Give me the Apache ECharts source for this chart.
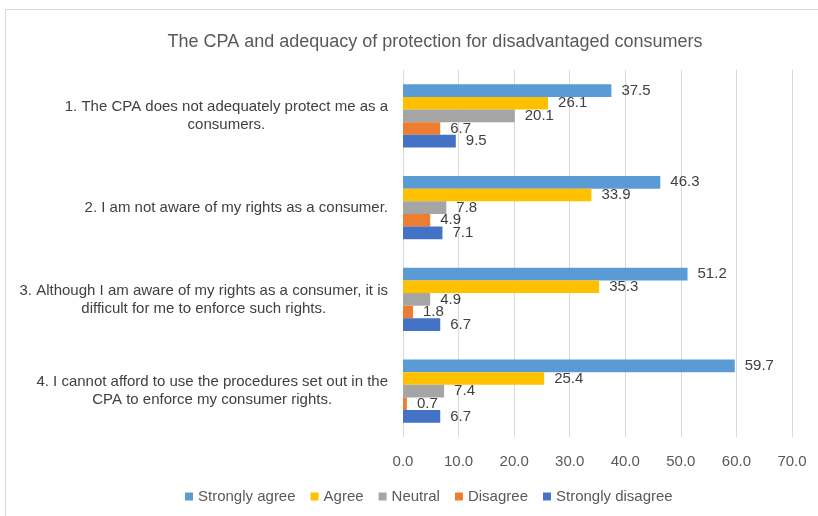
<!DOCTYPE html>
<html>
<head>
<meta charset="utf-8">
<script src="https://cdn.jsdelivr.net/npm/echarts@6/dist/echarts.min.js"></script>
<style>
  html, body { margin: 0; padding: 0; background: #fff; }
  #main { width: 818px; height: 516px; }
</style>
</head>
<body>
<div id="main"></div>
<script>
// categories, top to bottom
const categories = [
  "1. The CPA does not adequately protect me as a\nconsumers.",
  "2. I am not aware of my rights as a consumer.",
  "3. Although I am aware of my rights as a consumer, it is\ndifficult for me to enforce such rights.",
  "4. I cannot afford to use the procedures set out in the\nCPA to enforce my consumer rights.",
]
const seriesNames = ["Strongly agree", "Agree", "Neutral", "Disagree", "Strongly disagree"]
const stronglyAgree = [37.5, 46.3, 51.2, 59.7]
const agree = [26.1, 33.9, 35.3, 25.4]
const neutral = [20.1, 7.8, 4.9, 7.4]
const disagree = [6.7, 4.9, 1.8, 0.7]
const stronglyDisagree = [9.5, 7.1, 6.7, 6.7]
const xTicks = [0, 10, 20, 30, 40, 50, 60, 70]

const colors = ["#5B9BD5", "#FFC000", "#A5A5A5", "#ED7D31", "#4472C4"]
const font = "'Liberation Sans Narrow', 'Liberation Sans', Arial, sans-serif"

const myChart = echarts.init(document.getElementById("main"))

// 每个系列的公共样式
const makeSeries = (name, data, i) => ({
  name: name,
  type: "bar",
  data: data,
  barGap: "0%",
  barCategoryGap: "31%",
  itemStyle: { color: colors[i] },
  label: {
    show: true,
    position: "right",
    distance: 10,
    color: "#404040",
    fontSize: 15,
    fontFamily: font,
    formatter: (p) => p.value.toFixed(1),
  },
})

const option = {
  animation: false,
  title: {
    text: "The CPA and adequacy of protection for disadvantaged consumers",
    left: 430,
    textAlign: "center",
    top: 28,
    textStyle: {
      color: "#595959",
      fontSize: 18,
      fontWeight: "normal",
      fontFamily: font,
    },
  },
  legend: {
    data: seriesNames,
    bottom: 7,
    left: 180,
    itemWidth: 8,
    itemHeight: 8,
    itemGap: 15,
    icon: "rect",
    textStyle: { color: "#595959", fontSize: 15, fontFamily: font },
  },
  grid: {
    left: 403,
    right: 26,
    top: 70,
    bottom: 79,
    containLabel: false,
  },
  xAxis: {
    type: "value",
    min: xTicks[0],
    max: xTicks[xTicks.length - 1],
    interval: 10,
    axisLine: { show: false },
    axisTick: { show: false },
    splitLine: { lineStyle: { color: "#d9d9d9", width: 1 } },
    axisLabel: {
      color: "#595959",
      fontSize: 15,
      fontFamily: font,
      margin: 17,
      formatter: (v) => v.toFixed(1),
    },
  },
  yAxis: {
    type: "category",
    data: categories,
    inverse: true,
    axisLine: { show: false },
    axisTick: { show: false },
    axisLabel: {
      margin: 15,
      formatter: (v) =>
        v.split("\n").map((line) => "{c|" + line + "}").join("\n"),
      rich: {
        c: {
          align: "center",
          color: "#404040",
          fontSize: 15,
          lineHeight: 18,
          fontFamily: font,
        },
      },
    },
  },
  graphic: [
    {
      type: "rect",
      shape: { x: 5.5, y: 9.5, width: 900, height: 540 },
      style: { fill: "none", stroke: "#d9d9d9", lineWidth: 1 },
      silent: true,
    },
  ],
  series: [
    makeSeries(seriesNames[0], stronglyAgree, 0),
    makeSeries(seriesNames[1], agree, 1),
    makeSeries(seriesNames[2], neutral, 2),
    makeSeries(seriesNames[3], disagree, 3),
    makeSeries(seriesNames[4], stronglyDisagree, 4),
  ],
}

myChart.setOption(option)
</script>
</body>
</html>
